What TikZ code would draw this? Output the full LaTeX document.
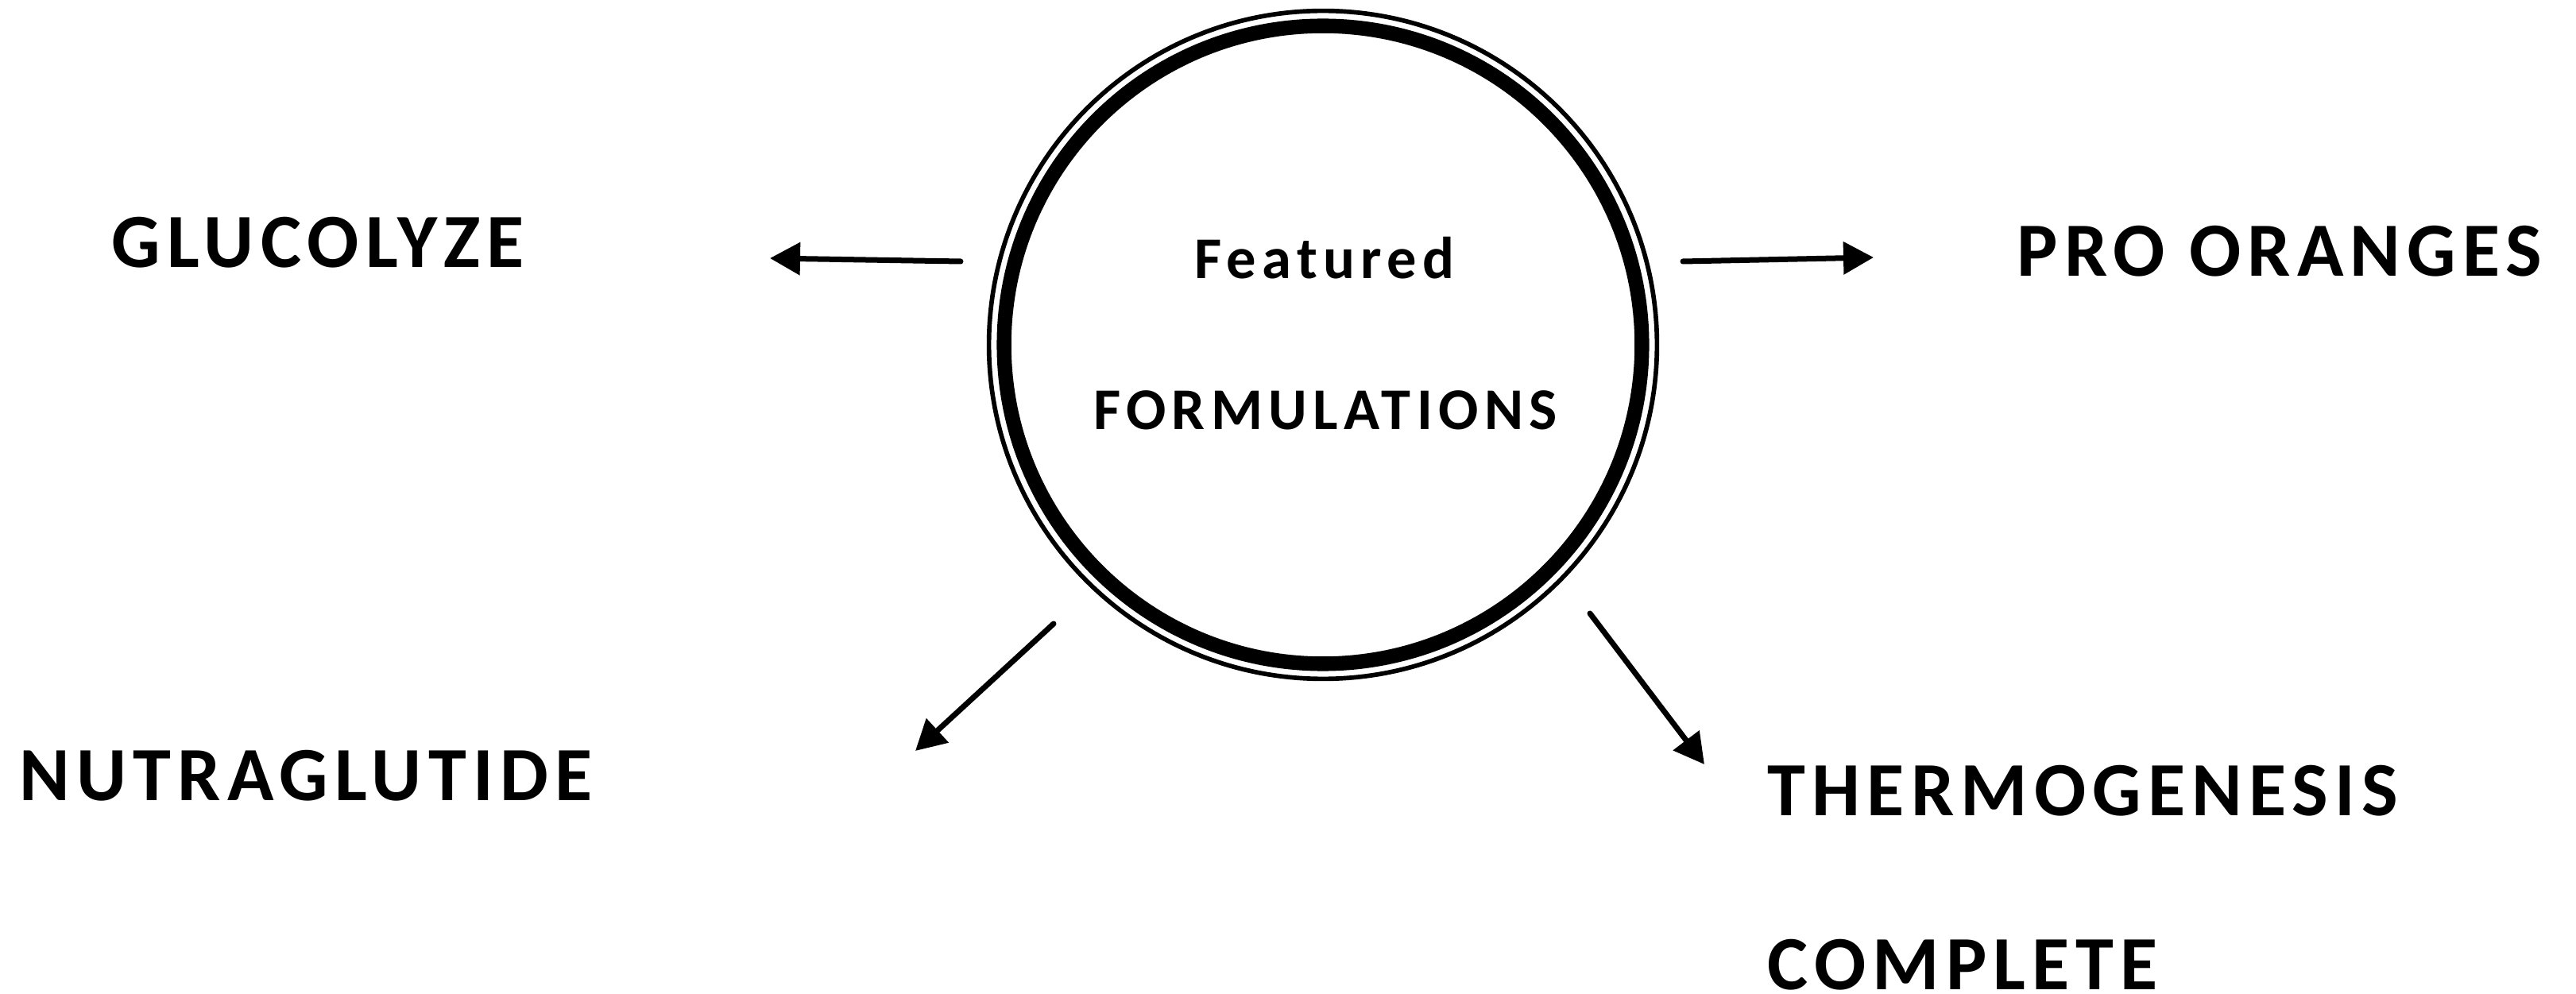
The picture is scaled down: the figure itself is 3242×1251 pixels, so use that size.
\documentclass[tikz,border=0pt]{standalone}
\usepackage{fontspec}
\setmainfont{Carlito}
\newfontfamily\outerfont{Carlito}[LetterSpace=8.5]
\newfontfamily\innerfont{Carlito}[LetterSpace=10]
\usetikzlibrary{arrows.meta}
\begin{document}
\begin{tikzpicture}[x=0.3pt,y=-0.3pt,
  lbl/.style={inner sep=0pt, anchor=base west, font=\outerfont\bfseries\fontsize{28.95pt}{30pt}\selectfont, text=black},
  ctr/.style={inner sep=0pt, anchor=base, font=\innerfont\bfseries\fontsize{22.35pt}{24pt}\selectfont, text=black},
  conn/.style={line width=2.1pt, line cap=round, -{Triangle[length=11.4pt,width=12pt]}}
]
\useasboundingbox (0,0) rectangle (3242,1251);
\node[circle, draw, line width=5.5pt, inner sep=0pt, minimum size=240.84pt] (c) at (1665,434) {};
\node[circle, draw, line width=1.7pt, inner sep=0pt, minimum size=252.24pt] (ring) at (1665,434) {};
\node[ctr] (feat) at (1667,351) {Featured};
\node[ctr] (form) at (1668,541) {FORMULATIONS};
\node[lbl] (glu) at (140,337) {GLUCOLYZE};
\node[lbl] (pro) at (2538,348) {PRO ORANGES};
\node[lbl] (nut) at (24,1007) {NUTRAGLUTIDE};
\node[lbl] (thermo) at (2224,1026) {THERMOGENESIS};
\node[lbl] (comp) at (2224,1245) {COMPLETE};
\coordinate (t1) at (1209,329); \coordinate (h1) at (969,325);
\coordinate (t2) at (2118,329); \coordinate (h2) at (2358,324);
\coordinate (t3) at (1326,785); \coordinate (h3) at (1152,945);
\coordinate (t4) at (2001,772); \coordinate (h4) at (2145,962);
\draw[conn] (t1) -- (h1);
\draw[conn] (t2) -- (h2);
\draw[conn] (t3) -- (h3);
\draw[conn] (t4) -- (h4);
\end{tikzpicture}
\end{document}
